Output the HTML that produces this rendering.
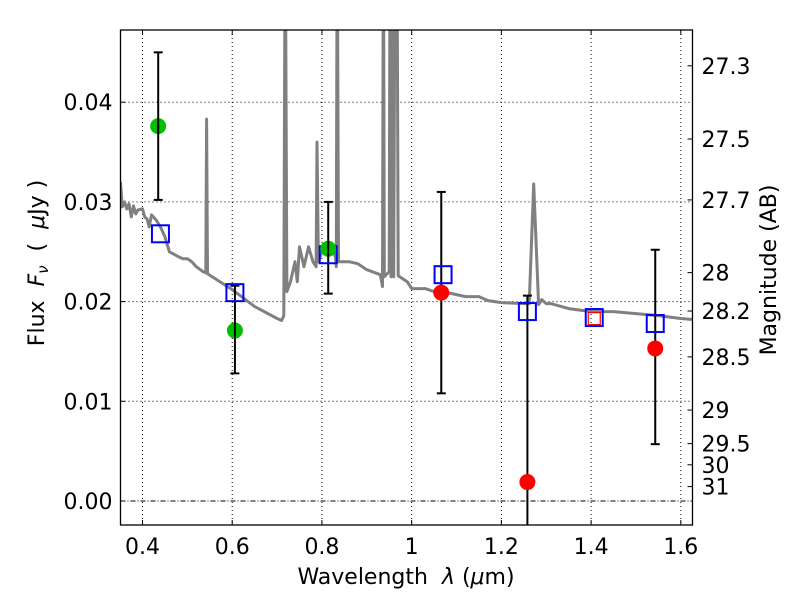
<!DOCTYPE html>
<html><head><meta charset="utf-8"><style>
body{margin:0;background:#fff;width:800px;height:600px;overflow:hidden}
svg text{font-family:"DejaVu Sans","Liberation Sans",sans-serif;fill:#000;white-space:pre}
</style></head><body>
<svg id="chart" width="800" height="600" xmlns="http://www.w3.org/2000/svg"></svg>
<script>
const specWave=[0.351,0.355,0.36,0.365,0.37,0.375,0.38,0.385,0.39,0.40,0.405,0.41,0.415,0.42,0.43,0.44,0.45,0.46,0.48,0.49,0.50,0.51,0.52,0.535,0.541,0.543,0.545,0.6,0.65,0.7,0.71,0.715,0.718,0.722,0.73,0.74,0.745,0.75,0.76,0.77,0.78,0.787,0.789,0.792,0.80,0.82,0.83,0.832,0.834,0.837,0.86,0.88,0.9,0.93,0.935,0.937,0.939,0.95,0.952,0.954,0.957,0.96,0.963,0.967,0.97,0.99,1.0,1.03,1.05,1.08,1.1,1.12,1.15,1.17,1.2,1.25,1.262,1.272,1.283,1.29,1.3,1.31,1.35,1.4,1.45,1.5,1.55,1.6,1.626];
const specFlux=[0.032,0.0295,0.030,0.0293,0.0298,0.0285,0.0296,0.0288,0.0292,0.0293,0.0285,0.0283,0.0275,0.0287,0.0282,0.0275,0.0265,0.025,0.0245,0.0243,0.0243,0.024,0.0235,0.023,0.0229,0.0383,0.0228,0.0212,0.0195,0.0183,0.0181,0.0186,0.06,0.021,0.022,0.024,0.022,0.0255,0.0235,0.0255,0.024,0.0235,0.036,0.024,0.025,0.0255,0.0245,0.0235,0.06,0.024,0.024,0.0238,0.0232,0.0227,0.0215,0.06,0.0225,0.023,0.06,0.0225,0.06,0.0225,0.06,0.06,0.0226,0.022,0.0213,0.0213,0.021,0.0209,0.0207,0.0205,0.0205,0.0201,0.0199,0.0198,0.0198,0.0318,0.0197,0.0202,0.0198,0.0198,0.0193,0.0190,0.0190,0.0188,0.0186,0.0183,0.0182];
const greenWave=[0.435,0.606,0.814];
const greenFlux=[0.0376,0.0171,0.0253];
const greenLo=[0.0302,0.0128,0.0208];
const greenHi=[0.045,0.0216,0.030];
const redWave=[1.066,1.258,1.543];
const redFlux=[0.0209,0.0019,0.0153];
const redLo=[0.0108,-0.01,0.0057];
const redHi=[0.031,0.0206,0.0252];
const redSqWave=[1.407];
const redSqFlux=[0.0183];
const modelWave=[0.44,0.606,0.814,1.07,1.258,1.407,1.543];
const modelFlux=[0.0268,0.0209,0.0247,0.0227,0.0190,0.0184,0.0178];
const xTicks=[0.4,0.6,0.8,1.0,1.2,1.4,1.6];
const xTickLabels=["0.4","0.6","0.8","1","1.2","1.4","1.6"];
const yTicks=[0,0.01,0.02,0.03,0.04];
const yTickLabels=["0.00","0.01","0.02","0.03","0.04"];
const magTicks=[27.3,27.5,27.7,28,28.2,28.5,29,29.5,30,31];

const L=120.5,R=692.5,T=30,B=525;
const X=w=>142.5+(w-0.4)*448.6;
const Y=f=>501-f*9970;
const magY=m=>Y(Math.pow(10,(23.9-m)/2.5));
const svg=document.getElementById('chart');
const NS='http://www.w3.org/2000/svg';
function mk(tag,attrs,parent){const e=document.createElementNS(NS,tag);for(const k in attrs)e.setAttribute(k,attrs[k]);(parent||svg).appendChild(e);return e;}

const defs=mk('defs',{});
const cp=mk('clipPath',{id:'clip'},defs);
mk('rect',{x:L,y:T,width:R-L,height:B-T},cp);

xTicks.forEach((t,i)=>{
 const g=mk('line',{x1:X(t),x2:X(t),y1:T,y2:B,stroke:'#000','stroke-width':1,'stroke-dasharray':'1,3'});
 
 
 mk('line',{x1:X(t),x2:X(t),y1:B,y2:B-5,stroke:'#000'});
 mk('line',{x1:X(t),x2:X(t),y1:T,y2:T+5,stroke:'#000'});
 const tx=mk('text',{x:X(t),y:B+29,'font-size':22,'text-anchor':'middle'});
 tx.textContent=xTickLabels[i];
 
 
});
yTicks.forEach((t,i)=>{
 if(t!==0){
  const g=mk('line',{x1:L,x2:R,y1:Y(t),y2:Y(t),stroke:'#000','stroke-width':1,'stroke-dasharray':'1,3'});
  
  
 }
 mk('line',{x1:L,x2:L+5,y1:Y(t),y2:Y(t),stroke:'#000'});
 const tx=mk('text',{x:L-8,y:Y(t)+8,'font-size':22,'text-anchor':'end'});
 tx.textContent=yTickLabels[i];
 
 
});
const zl=mk('line',{x1:L,x2:R,y1:Y(0),y2:Y(0),stroke:'#000','stroke-width':1,'stroke-dasharray':'5,2,1,2'});



const pts=specWave.map((w,i)=>X(w).toFixed(1)+','+Y(specFlux[i]).toFixed(1)).join(' ');
const sp=mk('polyline',{points:pts,fill:'none',stroke:'#808080','stroke-width':3,'clip-path':'url(#clip)','stroke-linejoin':'round'});



function errbar(w,lo,hi){
 const g=mk('g',{'clip-path':'url(#clip)'});
 
 
 mk('line',{x1:X(w),x2:X(w),y1:Y(lo),y2:Y(hi),stroke:'#000','stroke-width':2},g);
 mk('line',{x1:X(w)-4.5,x2:X(w)+4.5,y1:Y(lo),y2:Y(lo),stroke:'#000','stroke-width':2},g);
 mk('line',{x1:X(w)-4.5,x2:X(w)+4.5,y1:Y(hi),y2:Y(hi),stroke:'#000','stroke-width':2},g);
}
greenWave.forEach((w,i)=>errbar(w,greenLo[i],greenHi[i]));
redWave.forEach((w,i)=>errbar(w,redLo[i],redHi[i]));
modelWave.forEach((w,i)=>{
 const r=mk('rect',{x:X(w)-8.5,y:Y(modelFlux[i])-8.5,width:17,height:17,fill:'none',stroke:'#0000ff','stroke-width':2});
 
 
});
greenWave.forEach((w,i)=>{
 const c=mk('circle',{cx:X(w),cy:Y(greenFlux[i]),r:8,fill:'#00bf00'});
 
 
 mk('line',{x1:X(w),x2:X(w),y1:Y(greenFlux[i])-8,y2:Y(greenFlux[i])+8,stroke:'#000','stroke-width':2});
});
redWave.forEach((w,i)=>{
 const c=mk('circle',{cx:X(w),cy:Y(redFlux[i]),r:8,fill:'#ff0000'});
 
 
});
redSqWave.forEach((w,i)=>{
 const r=mk('rect',{x:X(w)-6,y:Y(redSqFlux[i])-6,width:12,height:12,fill:'none',stroke:'#ff0000','stroke-width':1.2});
 
 
});

magTicks.forEach(m=>{
 mk('line',{x1:R,x2:R-5,y1:magY(m),y2:magY(m),stroke:'#000'});
 const tx=mk('text',{x:R+9,y:magY(m)+8,'font-size':22});
 tx.textContent=String(m);
 
 
});

const fr=mk('rect',{x:L,y:T,width:R-L,height:B-T,fill:'none',stroke:'#000','stroke-width':1.3});



const xl=mk('text',{x:406,y:584,'font-size':22,'text-anchor':'middle'});
xl.innerHTML='Wavelength  <tspan font-style="italic">λ</tspan> (<tspan font-style="italic">μ</tspan>m)';


const yl=mk('text',{x:0,y:0,'font-size':22,'text-anchor':'middle',transform:'translate(44,263) rotate(-90)'});
yl.innerHTML='Flux  <tspan font-style="italic">F</tspan><tspan font-style="italic" font-size="15" dy="4">ν</tspan><tspan dy="-4">  (  </tspan><tspan font-style="italic">μ</tspan>Jy )';


const rl=mk('text',{x:0,y:0,'font-size':22,'text-anchor':'middle',transform:'translate(776,270) rotate(-90)'});
rl.textContent='Magnitude (AB)';


</script>
</body></html>
